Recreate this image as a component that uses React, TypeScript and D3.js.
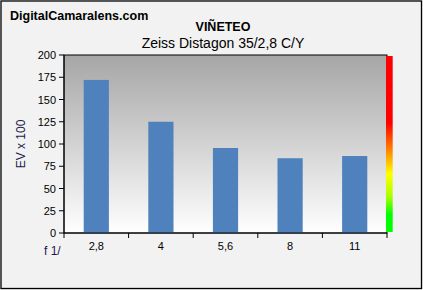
import React from "react";
import * as d3 from "d3";

const categories = ["2,8", "4", "5,6", "8", "11"];
const values = [172, 125, 95.5, 84, 86.5];
const yTicks = [0, 25, 50, 75, 100, 125, 150, 175, 200];

const W = 423, H = 290;
const left = 64, right = 387, top = 55, bottom = 233;

export default function App() {
  const x = d3.scaleBand<string>().domain(categories).range([left, right]).paddingInner(0.61).paddingOuter(0.305);
  const y = d3.scaleLinear().domain([0, 200]).range([bottom, top]);
  const step = (right - left) / categories.length;
  const font = "Arial, 'Liberation Sans', sans-serif";
  return (
    <svg width={W} height={H} style={{ position: "absolute", left: 0, top: 0 }}>
      <defs>
        <linearGradient id="bg" x1="0" y1="0" x2="0" y2="1">
          <stop offset="0" stopColor="#a6a6a6" />
          <stop offset="1" stopColor="#ffffff" />
        </linearGradient>
        <linearGradient id="cb" x1="0" y1="0" x2="0" y2="1">
          <stop offset="0" stopColor="#ff0000" />
          <stop offset="0.38" stopColor="#ff0000" />
          <stop offset="0.53" stopColor="#ff8000" />
          <stop offset="0.67" stopColor="#ffff00" />
          <stop offset="0.8" stopColor="#aaff00" />
          <stop offset="0.9" stopColor="#00ff00" />
          <stop offset="1" stopColor="#00ff00" />
        </linearGradient>
      </defs>
      <rect x={0} y={0} width={W} height={H} fill="#f2f2f2" />
      <rect x={1} y={1} width={420.5} height={287.5} fill="none" stroke="#000" strokeWidth={1.3} />
      <text x={10} y={20} fontFamily={font} fontSize={12.5} fontWeight="bold" fill="#000">DigitalCamaralens.com</text>
      <text x={223} y={31} fontFamily={font} fontSize={12.5} fontWeight="bold" textAnchor="middle" fill="#000">VIÑETEO</text>
      <text x={223} y={48} fontFamily={font} fontSize={14} textAnchor="middle" fill="#000">Zeiss Distagon 35/2,8 C/Y</text>
      <rect x={left} y={top} width={right - left} height={bottom - top} fill="url(#bg)" stroke="#000" strokeWidth={1} />
      {categories.map((c, i) => (
        <rect key={c} x={x(c)!} y={y(values[i])} width={x.bandwidth()} height={bottom - y(values[i])} fill="#4f81bd" />
      ))}
      <rect x={386} y={56} width={6.7} height={176} fill="url(#cb)" />
      <line x1={left} x2={left} y1={top} y2={bottom} stroke="#000" />
      <line x1={left} x2={right} y1={bottom} y2={bottom} stroke="#000" />
      {yTicks.map((t) => (
        <g key={t}>
          <line x1={left - 5} x2={left} y1={y(t)} y2={y(t)} stroke="#000" />
          <text x={left - 8} y={y(t) + 4} fontFamily={font} fontSize={11} textAnchor="end" fill="#000">{t}</text>
        </g>
      ))}
      {d3.range(categories.length + 1).map((i) => (
        <line key={i} x1={left + i * step} x2={left + i * step} y1={bottom} y2={bottom + 5} stroke="#000" />
      ))}
      {categories.map((c) => (
        <text key={c} x={x(c)! + x.bandwidth() / 2} y={250} fontFamily={font} fontSize={11} textAnchor="middle" fill="#000">{c}</text>
      ))}
      <text x={44} y={255} fontFamily={font} fontSize={12} fill="#1a1a4a">f 1/</text>
      <text transform={`translate(25,${(top + bottom) / 2}) rotate(-90)`} fontFamily={font} fontSize={12} textAnchor="middle" fill="#1a1a4a">EV x 100</text>
    </svg>
  );
}
